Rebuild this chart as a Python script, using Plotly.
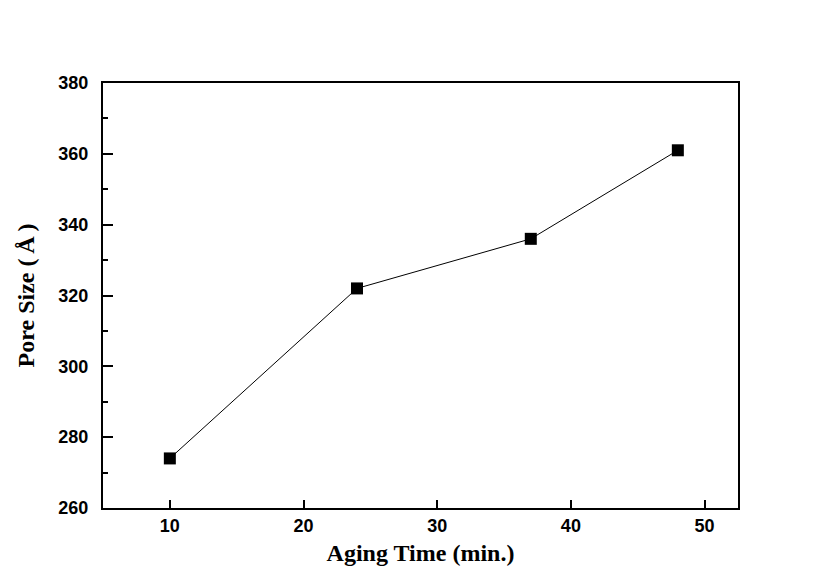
import plotly.graph_objects as go

aging_time = [10, 24, 37, 48]
pore_size = [274, 322, 336, 361]
x_ticks = [10, 20, 30, 40, 50]
y_ticks = [260, 280, 300, 320, 340, 360, 380]

fig = go.Figure()
fig.add_trace(go.Scatter(
    x=aging_time, y=pore_size, mode="lines+markers",
    line=dict(color="black", width=1),
    marker=dict(symbol="square", size=12, color="black"),
    showlegend=False,
))

tickfont = dict(family="Liberation Sans, Arial", size=18, color="black", weight="bold")
titlefont = dict(family="Liberation Serif, Times New Roman", size=24, color="black", weight="bold")

fig.update_layout(
    width=819, height=579,
    margin=dict(l=95, r=89, t=75, b=79, autoexpand=False),
    paper_bgcolor="white", plot_bgcolor="white",
    xaxis=dict(
        range=[5, 52.5], tickvals=x_ticks, ticks="inside", ticklen=8, tickwidth=2,
        tickcolor="black", showline=True, linecolor="black", linewidth=2, mirror=True,
        showgrid=False, zeroline=False, tickfont=tickfont, automargin=False,
        title=dict(text="Aging Time (min.)", font=titlefont, standoff=10),
    ),
    yaxis=dict(
        range=[260, 380], tickvals=y_ticks, ticks="inside", ticklen=10, tickwidth=2,
        tickcolor="black", showline=True, linecolor="black", linewidth=2, mirror=True,
        showgrid=False, zeroline=False, tickfont=tickfont, automargin=False,
        ticklabelstandoff=9,
        minor=dict(ticks="inside", ticklen=5, tickwidth=2, tickcolor="black", dtick=10, showgrid=False),
        title=dict(text="Pore Size (\u2009Å\u2009)", font=titlefont, standoff=17),
    ),
)

fig.write_html("out.html")
